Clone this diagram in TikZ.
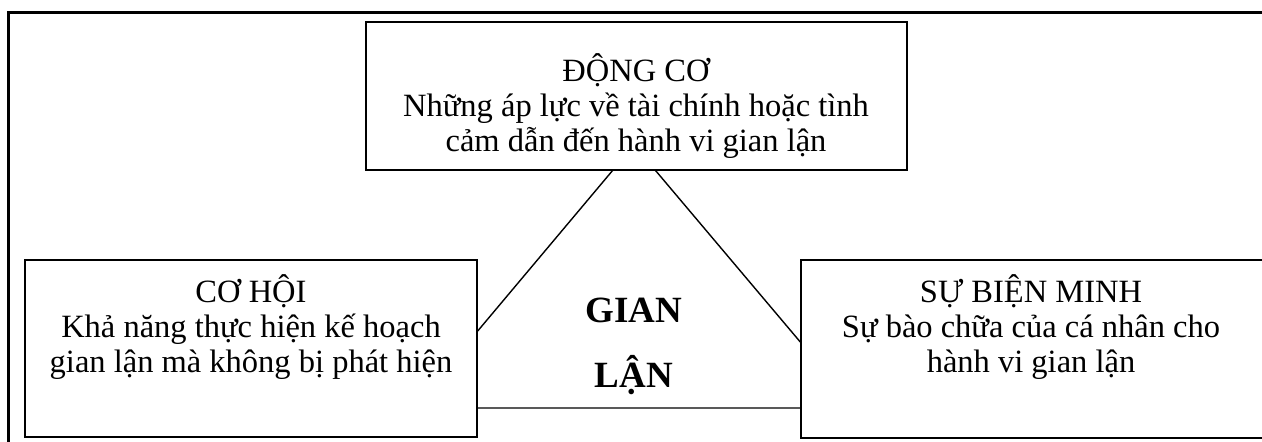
\documentclass[tikz,border=0pt]{standalone}
\usepackage{fontspec}
\setmainfont{Liberation Serif}
\begin{document}
\begin{tikzpicture}[x=1pt,y=-1pt,
  frame/.style={line width=3pt},
  box/.style={draw,line width=2pt,fill=white},
  tri/.style={line width=1.4pt,line join=miter},
  txt/.style={anchor=base,inner sep=0pt,font=\fontsize{32.5}{38}\selectfont},
  big/.style={anchor=base,inner sep=0pt,font=\fontsize{37}{44}\selectfont\bfseries}]
\useasboundingbox (0,0) rectangle (1262,442);
\clip (0,0) rectangle (1262,442);
% outer frame
\coordinate (fb) at (8,450);
\coordinate (ftl) at (8,12);
\coordinate (fr) at (1270,12);
\draw[frame] (fb) -- (ftl) -- (fr);
% triangle
\coordinate (apex) at (634,145);
\coordinate (bl) at (413,408);
\coordinate (br) at (856,408);
\draw[tri] (apex) -- (bl) -- (br) -- cycle;
% boxes
\filldraw[box] (366,22) rectangle (907,170);
\filldraw[box] (25,260) rectangle (477,437);
\filldraw[box] (801,260) rectangle (1266,438);
% texts
\node[txt] (t1) at (636,81) {ĐỘNG CƠ};
\node[txt] (t2) at (636,116) {Những áp lực về tài chính hoặc tình};
\node[txt] (t3) at (636,151) {cảm dẫn đến hành vi gian lận};
\node[txt] (l1) at (251,302) {CƠ HỘI};
\node[txt] (l2) at (251,337) {Khả năng thực hiện kế hoạch};
\node[txt] (l3) at (251,372) {gian lận mà không bị phát hiện};
\node[txt] (r1) at (1031,302) {SỰ BIỆN MINH};
\node[txt] (r2) at (1031,337) {Sự bào chữa của cá nhân cho};
\node[txt] (r3) at (1031,372) {hành vi gian lận};
\node[big] (g1) at (634,322) {GIAN};
\node[big] (g2) at (634,387) {LẬN};
\end{tikzpicture}
\end{document}
